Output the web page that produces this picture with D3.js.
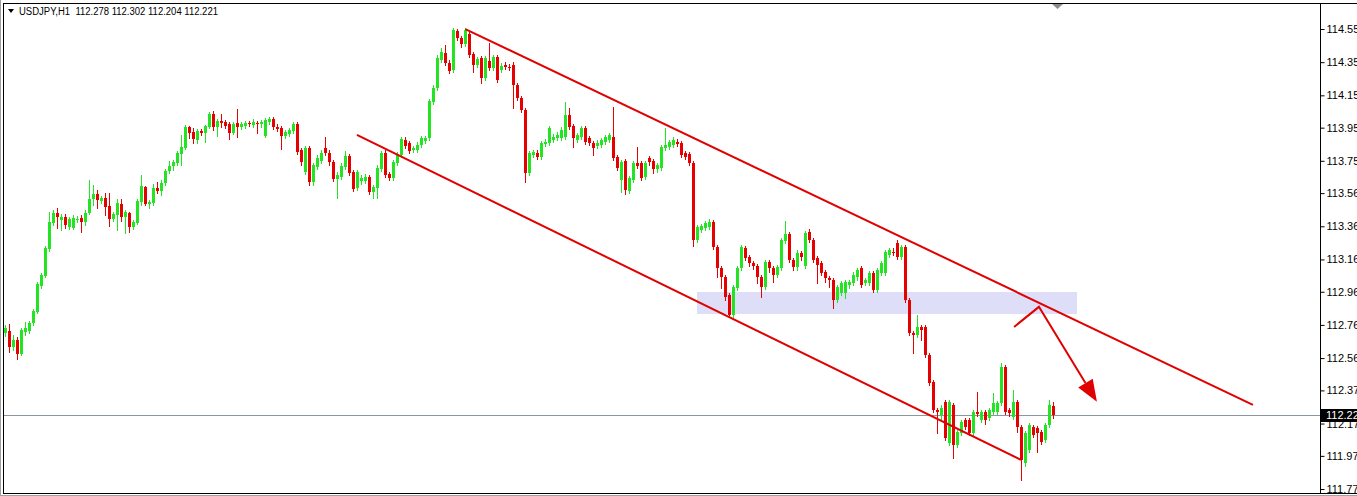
<!DOCTYPE html>
<html><head><meta charset="utf-8">
<script src="https://cdn.jsdelivr.net/npm/d3@7"></script>
<style>body{margin:0;background:#fff;overflow:hidden}svg{display:block}</style>
</head><body>
<svg id="c" width="1357" height="496"></svg>
<script>
const title = "USDJPY,H1  112.278 112.302 112.204 112.221";
const open = [112.717,112.729,112.633,112.675,112.590,112.723,112.729,112.777,112.844,113.000,113.061,113.224,113.380,113.441,113.398,113.417,113.356,113.350,113.398,113.410,113.386,113.441,113.525,113.555,113.513,113.531,113.483,113.404,113.429,113.495,113.417,113.441,113.356,113.380,113.507,113.597,113.495,113.501,113.591,113.573,113.621,113.694,113.724,113.742,113.796,113.833,113.959,113.929,113.881,113.935,113.923,113.959,114.038,113.959,113.995,113.989,113.977,113.923,113.983,113.959,113.965,113.983,113.971,113.983,113.977,113.905,113.989,114.007,113.959,113.953,113.905,113.917,113.935,113.977,113.820,113.688,113.833,113.628,113.718,113.754,113.833,113.802,113.748,113.646,113.658,113.718,113.784,113.688,113.591,113.634,113.634,113.658,113.567,113.591,113.706,113.802,113.676,113.652,113.742,113.790,113.881,113.863,113.820,113.820,113.851,113.875,113.893,114.110,114.194,114.363,114.405,114.345,114.303,114.538,114.496,114.460,114.520,114.399,114.333,114.375,114.255,114.357,114.315,114.381,114.303,114.333,114.321,114.333,114.212,114.134,114.062,113.682,113.790,113.802,113.778,113.857,113.863,113.881,113.893,113.893,113.899,114.032,113.965,113.881,113.899,113.953,113.893,113.863,113.845,113.851,113.869,113.881,113.899,113.778,113.640,113.754,113.573,113.640,113.742,113.742,113.658,113.772,113.754,113.706,113.712,113.833,113.839,113.851,113.869,113.863,113.802,113.796,113.742,113.278,113.338,113.350,113.356,113.386,113.236,113.109,113.055,112.946,112.826,112.988,113.109,113.230,113.175,113.139,113.121,113.055,112.994,113.145,113.109,113.067,113.109,113.272,113.314,113.157,113.115,113.199,113.121,113.326,113.278,113.169,113.139,113.085,113.049,113.037,112.916,112.958,112.958,113.006,113.018,113.055,113.109,113.018,113.018,113.079,112.976,113.079,113.079,113.187,113.205,113.260,113.175,113.236,112.916,112.717,112.705,112.753,112.753,112.584,112.422,112.253,112.223,112.301,112.054,112.283,112.042,112.114,112.192,112.192,112.114,112.241,112.192,112.241,112.204,112.241,112.241,112.295,112.512,112.253,112.211,112.301,112.150,111.933,112.012,112.150,112.144,112.120,112.072,112.162,112.278];
const high = [112.765,112.771,112.705,112.693,112.747,112.783,112.789,112.862,113.024,113.079,113.242,113.447,113.459,113.471,113.435,113.435,113.417,113.429,113.423,113.429,113.459,113.640,113.609,113.579,113.543,113.561,113.561,113.447,113.525,113.525,113.459,113.447,113.398,113.525,113.670,113.603,113.519,113.615,113.628,113.640,113.706,113.754,113.760,113.814,113.911,113.971,113.965,113.953,113.947,113.947,113.971,114.050,114.056,114.007,114.038,114.001,113.989,113.989,114.068,113.989,113.995,113.995,114.007,113.995,114.001,114.013,114.019,114.019,113.977,113.965,113.941,113.953,113.989,113.989,113.833,113.845,113.845,113.742,113.790,113.820,113.899,113.820,113.760,113.688,113.742,113.814,113.796,113.700,113.700,113.670,113.676,113.670,113.609,113.730,113.814,113.820,113.688,113.760,113.808,113.899,113.899,113.875,113.845,113.869,113.905,113.905,114.128,114.212,114.393,114.436,114.454,114.363,114.556,114.550,114.508,114.556,114.532,114.411,114.381,114.387,114.387,114.466,114.393,114.393,114.345,114.351,114.339,114.351,114.225,114.146,114.074,113.814,113.820,113.820,113.875,113.887,113.965,113.917,113.929,113.959,114.110,114.074,113.977,113.923,113.965,113.965,113.905,113.875,113.881,113.893,113.911,113.923,114.080,113.790,113.760,113.766,113.664,113.754,113.839,113.754,113.754,113.784,113.766,113.742,113.851,113.953,113.881,113.899,113.887,113.875,113.814,113.808,113.754,113.368,113.374,113.392,113.404,113.398,113.248,113.121,113.067,112.958,113.006,113.121,113.248,113.242,113.187,113.151,113.133,113.067,113.157,113.157,113.121,113.127,113.290,113.392,113.326,113.169,113.218,113.211,113.332,113.344,113.290,113.181,113.151,113.097,113.061,113.049,113.006,113.030,113.037,113.037,113.085,113.109,113.121,113.049,113.091,113.091,113.109,113.151,113.218,113.230,113.230,113.278,113.248,113.248,112.928,112.729,112.826,112.765,112.765,112.596,112.434,112.265,112.283,112.313,112.313,112.295,112.132,112.192,112.204,112.204,112.253,112.361,112.253,112.253,112.265,112.355,112.307,112.536,112.524,112.265,112.373,112.313,112.162,112.126,112.174,112.162,112.156,112.132,112.174,112.313,112.302];
const low = [112.699,112.602,112.615,112.560,112.584,112.705,112.717,112.765,112.838,112.988,113.055,113.212,113.368,113.350,113.338,113.350,113.344,113.344,113.386,113.326,113.368,113.435,113.489,113.471,113.501,113.429,113.362,113.392,113.338,113.392,113.320,113.326,113.344,113.374,113.489,113.489,113.471,113.489,113.561,113.549,113.609,113.682,113.700,113.730,113.730,113.827,113.893,113.863,113.863,113.911,113.869,113.953,113.941,113.905,113.959,113.953,113.887,113.917,113.899,113.947,113.953,113.965,113.959,113.923,113.959,113.899,113.977,113.947,113.935,113.827,113.893,113.905,113.923,113.796,113.730,113.676,113.609,113.609,113.706,113.742,113.790,113.730,113.634,113.531,113.646,113.706,113.670,113.573,113.579,113.615,113.621,113.555,113.531,113.531,113.694,113.658,113.640,113.640,113.730,113.778,113.833,113.802,113.808,113.808,113.839,113.863,113.881,114.098,114.182,114.351,114.333,114.285,114.291,114.484,114.442,114.448,114.381,114.291,114.321,114.225,114.243,114.303,114.303,114.231,114.291,114.309,114.303,114.074,114.122,114.050,113.628,113.670,113.778,113.766,113.766,113.845,113.851,113.869,113.881,113.881,113.887,113.947,113.839,113.869,113.887,113.857,113.851,113.790,113.833,113.839,113.857,113.869,113.760,113.700,113.567,113.555,113.561,113.628,113.712,113.640,113.646,113.730,113.682,113.688,113.700,113.820,113.827,113.839,113.845,113.778,113.766,113.730,113.242,113.266,113.326,113.338,113.344,113.224,113.055,112.988,112.916,112.813,112.813,112.976,113.097,113.157,113.121,113.103,113.018,112.934,112.982,113.085,113.024,113.055,113.097,113.260,113.145,113.097,113.097,113.157,113.109,113.266,113.145,113.018,113.067,113.024,112.994,112.868,112.904,112.946,112.928,112.988,113.006,113.037,112.994,113.006,113.006,112.964,112.964,113.067,113.067,113.175,113.187,113.163,113.163,112.904,112.705,112.596,112.693,112.675,112.572,112.404,112.241,112.114,112.192,112.072,112.042,111.963,112.030,112.102,112.138,112.102,112.102,112.217,112.180,112.168,112.192,112.229,112.229,112.283,112.229,112.217,112.199,112.120,111.831,111.915,112.000,112.090,112.000,112.048,112.060,112.150,112.204];
const close = [112.747,112.633,112.675,112.590,112.735,112.747,112.777,112.850,113.012,113.067,113.230,113.386,113.441,113.417,113.417,113.368,113.404,113.410,113.404,113.386,113.441,113.525,113.555,113.519,113.531,113.477,113.404,113.435,113.501,113.417,113.447,113.356,113.386,113.513,113.603,113.495,113.507,113.591,113.573,113.621,113.694,113.724,113.748,113.802,113.839,113.959,113.923,113.887,113.935,113.923,113.965,114.038,113.959,113.995,113.983,113.965,113.923,113.977,113.959,113.977,113.983,113.977,113.989,113.977,113.989,114.001,114.007,113.959,113.947,113.905,113.929,113.941,113.977,113.808,113.748,113.833,113.628,113.730,113.772,113.802,113.802,113.748,113.646,113.670,113.724,113.784,113.682,113.585,113.688,113.652,113.658,113.567,113.597,113.712,113.802,113.670,113.652,113.748,113.790,113.887,113.845,113.814,113.833,113.851,113.893,113.893,114.116,114.194,114.375,114.411,114.345,114.297,114.544,114.496,114.460,114.544,114.393,114.333,114.369,114.255,114.375,114.315,114.381,114.243,114.327,114.321,114.315,114.212,114.134,114.062,113.682,113.802,113.808,113.778,113.863,113.869,113.953,113.899,113.911,113.941,114.032,113.959,113.893,113.911,113.953,113.869,113.863,113.833,113.863,113.881,113.899,113.911,113.772,113.712,113.748,113.579,113.652,113.742,113.724,113.652,113.742,113.748,113.706,113.730,113.839,113.851,113.869,113.881,113.857,113.790,113.778,113.742,113.278,113.356,113.362,113.380,113.386,113.236,113.109,113.055,112.934,112.826,112.994,113.109,113.236,113.169,113.139,113.121,113.055,112.994,113.145,113.109,113.067,113.115,113.278,113.314,113.157,113.115,113.199,113.175,113.320,113.278,113.157,113.127,113.079,113.049,113.037,112.916,112.994,113.018,113.024,113.024,113.067,113.097,113.006,113.037,113.079,112.976,113.097,113.139,113.205,113.218,113.199,113.175,113.236,112.916,112.717,112.705,112.753,112.735,112.584,112.416,112.253,112.241,112.265,112.084,112.301,112.042,112.120,112.180,112.150,112.114,112.241,112.229,112.241,112.192,112.253,112.295,112.295,112.512,112.241,112.235,112.301,112.150,111.951,112.114,112.162,112.102,112.114,112.060,112.162,112.283,112.221];
const priceTicks = [114.550,114.350,114.150,113.955,113.755,113.560,113.360,113.160,112.965,112.765,112.565,112.370,112.170,111.975,111.775];
const lastPrice = 112.221;
// drawn objects, anchored to (bar index, price)
const upperTrend = [[115.0,114.550],[311.9,112.283]];
const lowerTrend = [[87.9,113.911],[253.9,111.951]];
const supplyZone = [[172.9,112.964],[267.9,112.832]];
const arrowPts = [[252.2,112.753],[258.4,112.874],[272.9,112.301]];

const W = 1357, H = 496;
const plot = {l:4, r:1320, t:4, b:493};
const svg = d3.select("#c");
const x = d3.scaleLinear().domain([-0.33, 328.67]).range([plot.l, plot.r]);
const y = d3.scaleLinear().domain([111.751, 114.701]).range([plot.b, plot.t]);
const UP = "#22e422", DN = "#e60000", LINE = "#e00000";
const FONT = "Liberation Sans, Arial, sans-serif";

svg.append("rect").attr("width",W).attr("height",H).attr("fill","#fff");
svg.append("clipPath").attr("id","pc").append("rect")
  .attr("x",plot.l).attr("y",plot.t).attr("width",plot.r-plot.l).attr("height",plot.b-plot.t);
const g = svg.append("g").attr("clip-path","url(#pc)");

// zone
g.append("rect")
  .attr("x", Math.round(x(supplyZone[0][0]))).attr("y", Math.round(y(supplyZone[0][1])))
  .attr("width", Math.round(x(supplyZone[1][0]) - x(supplyZone[0][0])))
  .attr("height", Math.round(y(supplyZone[1][1]) - y(supplyZone[0][1])))
  .attr("fill","#dedef8");

// last price line
g.append("line").attr("x1",plot.l).attr("x2",plot.r)
  .attr("y1",Math.round(y(lastPrice))+0.5).attr("y2",Math.round(y(lastPrice))+0.5)
  .attr("stroke","#8a96a0").attr("stroke-width",1);

// candles
const idx = d3.range(open.length);
const cg = g.append("g");
idx.forEach(i=>{
  const cx = Math.round(x(i));
  const up = close[i] >= open[i];
  const col = up ? UP : DN;
  cg.append("line").attr("x1",cx+0.5).attr("x2",cx+0.5)
    .attr("y1",Math.round(y(high[i]))).attr("y2",Math.round(y(low[i]))+1)
    .attr("stroke",col).attr("stroke-width",1);
  const yt = Math.round(y(Math.max(open[i],close[i])));
  const yb = Math.round(y(Math.min(open[i],close[i])));
  cg.append("rect").attr("x",cx-1).attr("y",yt).attr("width",3).attr("height",Math.max(1,yb-yt))
    .attr("fill",col);
});

// trendlines
[upperTrend, lowerTrend].forEach(t=>{
  g.append("line").attr("x1",x(t[0][0])).attr("y1",y(t[0][1]))
    .attr("x2",x(t[1][0])).attr("y2",y(t[1][1]))
    .attr("stroke",LINE).attr("stroke-width",2);
});
// arrow
const ap = arrowPts.map(d=>[x(d[0]),y(d[1])]);
const tip = ap[2], prev = ap[1];
const dx = tip[0]-prev[0], dy = tip[1]-prev[1], len = Math.hypot(dx,dy);
const ux = dx/len, uy = dy/len, hl = 22, hw = 8.5;
const base = [tip[0]-ux*hl, tip[1]-uy*hl];
g.append("path").attr("d", d3.line()([ap[0], ap[1], base]))
  .attr("fill","none").attr("stroke",LINE).attr("stroke-width",2);
g.append("path").attr("d", d3.line()([[base[0]-uy*hw, base[1]+ux*hw],[tip[0],tip[1]],[base[0]+uy*hw, base[1]-ux*hw]])+"Z")
  .attr("fill",LINE);

// frame
svg.append("line").attr("x1",3.5).attr("x2",3.5).attr("y1",3).attr("y2",494).attr("stroke","#000");
svg.append("line").attr("x1",3).attr("x2",W).attr("y1",3.5).attr("y2",3.5).attr("stroke","#000");
svg.append("line").attr("x1",3).attr("x2",W).attr("y1",493.5).attr("y2",493.5).attr("stroke","#000");
svg.append("line").attr("x1",0.5).attr("x2",0.5).attr("y1",0).attr("y2",H).attr("stroke","#a0a0a0");
svg.append("line").attr("x1",0).attr("x2",W).attr("y1",495.5).attr("y2",495.5).attr("stroke","#a0a0a0");

// price axis
const axis = d3.axisRight(y).tickValues(priceTicks).tickFormat(d3.format(".3f")).tickSize(4).tickPadding(2);
const ag = svg.append("g").attr("transform",`translate(${plot.r+0.5},0)`).call(axis);
ag.select(".domain").attr("d",`M0,${plot.t}V${plot.b}`).attr("stroke","#000");
ag.selectAll(".tick line").attr("stroke","#000");
ag.selectAll(".tick text").attr("font-family",FONT).attr("font-size","11px").attr("fill","#000");

// last price label
const ly = Math.round(y(lastPrice));
svg.append("rect").attr("x",plot.r+1).attr("y",ly-6).attr("width",W-plot.r).attr("height",13).attr("fill","#000");
svg.append("text").attr("x",plot.r+6).attr("y",ly+4).attr("fill","#fff")
  .attr("font-family",FONT).attr("font-size","11px").text(d3.format(".3f")(lastPrice));

// title
svg.append("path").attr("d","M8,9H14L11,13Z").attr("fill","#000");
svg.append("text").attr("x",19).attr("y",15).attr("font-family",FONT)
  .attr("font-size","10px").attr("fill","#000").style("white-space","pre")
  .attr("textLength",199).attr("lengthAdjust","spacingAndGlyphs").text(title);
// chart shift marker
svg.append("path").attr("d","M1052,4H1063L1057.5,9Z").attr("fill","#8c8c8c");
</script>
</body></html>
